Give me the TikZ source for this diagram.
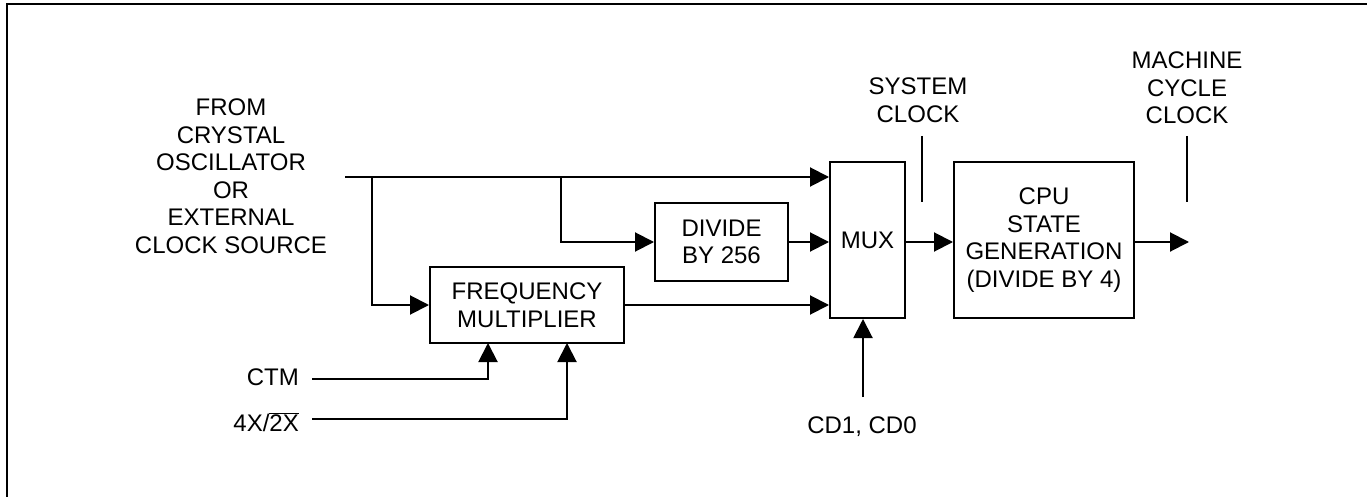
\documentclass[tikz,border=0pt]{standalone}
\usepackage{fontspec}
\setmainfont{Liberation Sans}
\usetikzlibrary{arrows.meta}
\begin{document}
\begin{tikzpicture}[x=1pt,y=-1pt,
  every node/.style={font=\fontsize{24}{27.6}\selectfont, inner sep=0pt},
  blk/.style={draw, line width=2pt, align=center},
  wire/.style={line width=2pt},
  arr/.style={wire, -{Triangle[length=19pt,width=19pt]}},
  lbl/.style={align=center},
  tick/.style={line width=1.8pt}]
\useasboundingbox (0,0) rectangle (1367,497);
% frame
\draw[line width=2pt] (6.5,497) -- (6.5,4.5) -- (1367,4.5);

% blocks
\node[blk, minimum width=133pt, minimum height=78pt] (div) at (721.5,242) {DIVIDE\\BY 256};
\node[blk, minimum width=194pt, minimum height=76pt] (fm) at (527,305) {FREQUENCY\\MULTIPLIER};
\node[blk, minimum width=75pt, minimum height=156pt] (mux) at (867.5,240) {MUX};
\node[blk, minimum width=180pt, minimum height=156pt] (cpu) at (1044,240) {CPU\\STATE\\GENERATION\\(DIVIDE BY 4)};

% labels
\node[lbl, anchor=north] (src) at (231,98.6) {FROM\\CRYSTAL\\OSCILLATOR\\OR\\EXTERNAL\\CLOCK SOURCE};
\node[lbl, anchor=north] (sys) at (918,77.6) {SYSTEM\\CLOCK};
\node[lbl, anchor=north] (mach) at (1187,51.6) {MACHINE\\CYCLE\\CLOCK};
\node[anchor=east] (ctm) at (299,377) {CTM};
\node[anchor=base east] (fx) at (299,431.4) {4X/$\overline{\mbox{2X}}$};
\node[anchor=base] (cd) at (862,433.4) {CD1, CD0};

% coordinates
\coordinate (s0) at (345,177);
\coordinate (b1) at (372,177);
\coordinate (b2) at (561,177);
\coordinate (ctm0) at (312,379);
\coordinate (fx0) at (312,419);
\coordinate (cd0) at (863,397);
\coordinate (out) at (1189,242);

% wires
\draw[arr] (s0) -- (s0 -| mux.west);
\draw[arr] (b1) |- (fm.west);
\draw[arr] (b2) |- (div.west);
\draw[arr] (div.east) -- (div.east -| mux.west);
\draw[arr] (fm.east) -- (fm.east -| mux.west);
\draw[arr] (ctm0) -| (488,343);
\draw[arr] (fx0) -| (567,343);
\draw[arr] (cd0) -- (cd0 |- mux.south);
\draw[arr] (mux.east |- 0,242) -- (cpu.west |- 0,242);
\draw[arr] (cpu.east |- 0,242) -- (out);

% ticks
\draw[tick] (922,136) -- (922,202);
\draw[tick] (1187,136) -- (1187,202);
\end{tikzpicture}
\end{document}
